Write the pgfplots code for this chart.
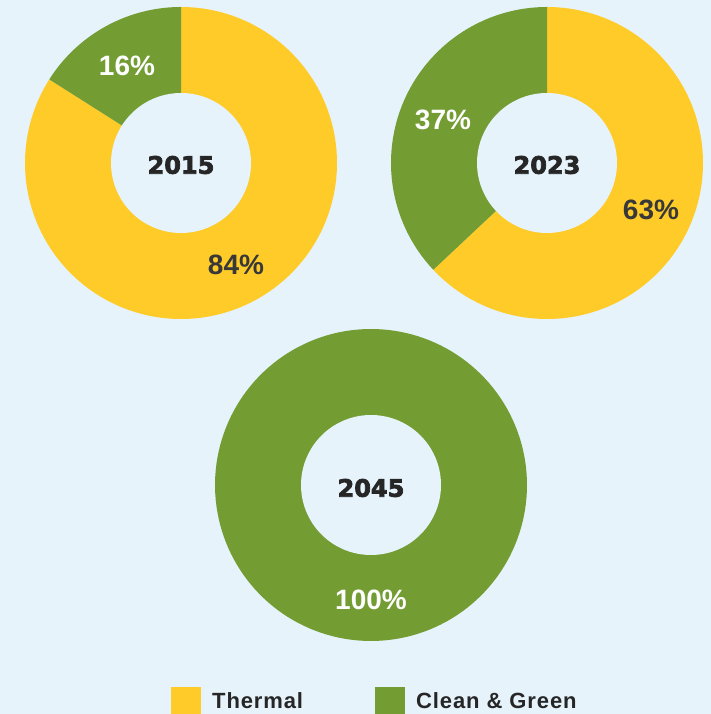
\documentclass[border=0pt]{standalone}
\usepackage{pgfplots}
\pgfplotsset{compat=1.18}
\usepackage{fontspec}
\setmainfont{Liberation Sans}
\newfontfamily\heavyfont{DejaVu Sans}[BoldFeatures={FakeBold=3}]
\newfontfamily\legfont{Liberation Sans}[LetterSpace=4]
\definecolor{bg}{HTML}{E6F3FB}
\definecolor{thermal}{HTML}{FFCB29}
\definecolor{cleangreen}{HTML}{739C33}
\definecolor{darktext}{HTML}{262626}
\definecolor{pcttext}{HTML}{383838}
\tikzset{
  pct/.style={font=\bfseries\fontsize{28}{28}\selectfont, inner sep=0pt, anchor=center},
  yr/.style={font=\heavyfont\bfseries\fontsize{24}{24}\selectfont, text=darktext, inner sep=0pt, anchor=center},
  leg/.style={anchor=base west, inner sep=0pt, text=darktext, font=\legfont\bfseries\fontsize{22}{22}\selectfont},
}
\begin{document}
\begin{tikzpicture}
\fill[bg] (0,0) rectangle (711pt,714pt);
\begin{axis}[
  x=1pt, y=1pt,
  xmin=0, xmax=711, ymin=0, ymax=714,
  hide axis,
  at={(0,0)}, anchor=south west,
  samples=160,
]
% ---------- 2015: Clean & Green 16, Thermal 84 ----------
\addplot[fill=thermal, draw=none, domain={90+3.6*16}:450] ({181+156*cos(x)},{551+156*sin(x)}) -- (axis cs:181,551) -- cycle;
\addplot[fill=cleangreen, draw=none, domain=90:{90+3.6*16}] ({181+156*cos(x)},{551+156*sin(x)}) -- (axis cs:181,551) -- cycle;
\addplot[fill=bg, draw=none, domain=0:360] ({181+70*cos(x)},{551+70*sin(x)}) -- cycle;
% ---------- 2023: Clean & Green 37, Thermal 63 ----------
\addplot[fill=thermal, draw=none, domain={90+3.6*37}:450] ({547+156*cos(x)},{551+156*sin(x)}) -- (axis cs:547,551) -- cycle;
\addplot[fill=cleangreen, draw=none, domain=90:{90+3.6*37}] ({547+156*cos(x)},{551+156*sin(x)}) -- (axis cs:547,551) -- cycle;
\addplot[fill=bg, draw=none, domain=0:360] ({547+70*cos(x)},{551+70*sin(x)}) -- cycle;
% ---------- 2045: Clean & Green 100 ----------
\addplot[fill=cleangreen, draw=none, domain=0:360] ({371+156*cos(x)},{229+156*sin(x)}) -- cycle;
\addplot[fill=bg, draw=none, domain=0:360] ({371+70*cos(x)},{229+70*sin(x)}) -- cycle;
% ---------- legend squares ----------
\addplot[fill=thermal, draw=none] coordinates {(171,-5) (201,-5) (201,27) (171,27)} -- cycle;
\addplot[fill=cleangreen, draw=none] coordinates {(375,-5) (405,-5) (405,27) (375,27)} -- cycle;
% ---------- labels ----------
\node[pct, text=white] at (axis cs:127,648) {16\%};
\node[pct, text=pcttext] at (axis cs:236,449) {84\%};
\node[pct, text=white] at (axis cs:443,594) {37\%};
\node[pct, text=pcttext] at (axis cs:651,504) {63\%};
\node[pct, text=white] at (axis cs:371,114) {100\%};
\node[yr] at (axis cs:181,549) {2015};
\node[yr] at (axis cs:547,549) {2023};
\node[yr] at (axis cs:371,226) {2045};
\node[leg] at (axis cs:212,5) {Thermal};
\node[leg] at (axis cs:416,5) {Clean \& Green};
\end{axis}
\end{tikzpicture}
\end{document}
